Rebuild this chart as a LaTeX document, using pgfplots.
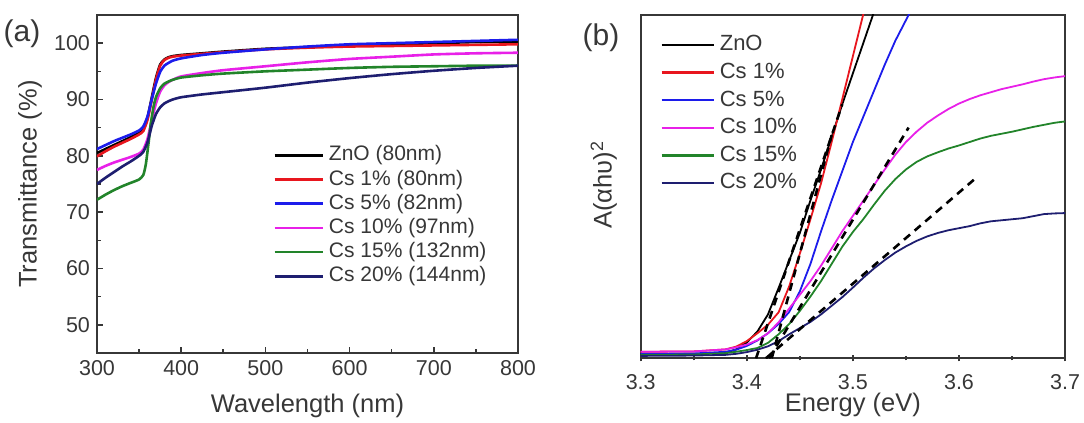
\documentclass[border=0pt]{standalone}
\usepackage{fontspec}
\setmainfont{Liberation Sans}
\usepackage{pgfplots}
\pgfplotsset{compat=1.18}

\definecolor{cred}{RGB}{232,22,30}
\definecolor{cblue}{RGB}{28,28,235}
\definecolor{cmag}{RGB}{232,32,232}
\definecolor{cgreen}{RGB}{34,132,42}
\definecolor{cnavy}{RGB}{30,30,112}
\definecolor{axgray}{RGB}{55,55,55}

\pgfplotsset{
  panel/.style={
    scale only axis,
    axis line style={axgray, line width=1pt},
    tick style={axgray, line width=0.8pt},
    major tick length=3.2pt, minor tick length=2pt,
    ticklabel style={font=\fontsize{10.75}{12}\selectfont, text=axgray},
    /pgf/number format/assume math mode=true,
    label style={font=\fontsize{12.75}{14}\selectfont, text=axgray},
    legend cell align=left,
    clip mode=individual,
  },
}

\begin{document}
\begin{tikzpicture}
\useasboundingbox (0,0) rectangle (542pt,211.5pt);

% ---------- (a) transmittance ----------
\begin{axis}[panel,
    at={(48.5pt,35pt)}, anchor=south west,
    width=210.5pt, height=169pt,
    xmin=300, xmax=800, ymin=45, ymax=105,
    xtick={300,400,...,800}, ytick={50,60,...,100},
    minor x tick num=1, minor y tick num=1,
    xtick pos=bottom, ytick pos=left, tick align=inside,
    xlabel={Wavelength (nm)}, ylabel={Transmittance (\%)},
    xlabel style={at={(axis description cs:0.5,-0.157)}, anchor=center},
    ylabel style={at={(axis description cs:-0.159,0.5)}, anchor=center},
    every axis plot/.append style={line width=1.3pt, smooth, tension=0.35},
    legend image code/.code={\draw[#1, line width=1.3pt] (0pt,0pt) -- (24pt,0pt);},
    legend style={at={(axis description cs:0.418,0.617)}, anchor=north west,
      draw=none, fill=none, inner sep=0pt, row sep=1.6pt, column sep=2.5pt,
      font=\fontsize{10.5}{12}\selectfont, text=axgray,
      nodes={inner sep=0pt, text height=8pt, text depth=2.5pt}},
  ]
  \addplot[black] coordinates {(300,80.5)(310,81.2)(320,81.9)(330,82.6)(340,83.3)(350,84.1)(355,84.8)(360,86.8)(365,90.3)(370,93.8)(375,96.2)(380,97.1)(385,97.5)(390,97.7)(400,97.9)(425,98.2)(450,98.5)(500,99.0)(550,99.3)(600,99.6)(650,99.8)(700,100.0)(750,100.2)(800,100.3)};
  \addlegendentry{ZnO (80nm)}
  \addplot[cred] coordinates {(300,79.9)(310,80.8)(320,81.6)(330,82.3)(340,83.0)(350,83.8)(355,84.4)(360,86.4)(365,89.9)(370,93.5)(375,96.0)(380,97.0)(385,97.4)(390,97.6)(400,97.8)(425,98.1)(450,98.4)(500,98.9)(550,99.2)(600,99.4)(650,99.5)(700,99.6)(750,99.7)(800,99.8)};
  \addlegendentry{Cs 1\% (80nm)}
  \addplot[cblue] coordinates {(300,81.2)(310,81.9)(320,82.6)(330,83.2)(340,83.8)(350,84.5)(355,85.2)(360,87.0)(365,90.0)(370,92.8)(375,94.9)(380,96.0)(385,96.5)(390,96.9)(400,97.3)(425,97.9)(450,98.3)(500,98.9)(550,99.4)(600,99.8)(650,100.0)(700,100.2)(750,100.4)(800,100.6)};
  \addlegendentry{Cs 5\% (82nm)}
  \addplot[cmag] coordinates {(300,77.5)(310,78.2)(320,78.8)(330,79.3)(340,79.8)(350,80.4)(355,81.1)(360,83.0)(365,86.3)(370,89.3)(375,91.4)(380,92.5)(385,93.1)(390,93.5)(400,94.1)(425,94.7)(450,95.2)(500,95.9)(550,96.6)(600,97.2)(650,97.6)(700,98.0)(750,98.2)(800,98.3)};
  \addlegendentry{Cs 10\% (97nm)}
  \addplot[cgreen] coordinates {(300,72.2)(310,73.1)(320,73.9)(330,74.6)(340,75.2)(350,75.8)(355,76.6)(358,78.5)(361,82.0)(364,85.8)(367,88.6)(370,90.4)(375,92.0)(380,92.8)(385,93.2)(390,93.5)(400,93.9)(425,94.3)(450,94.6)(500,95.0)(550,95.3)(600,95.6)(650,95.8)(700,95.9)(750,96.0)(800,96.0)};
  \addlegendentry{Cs 15\% (132nm)}
  \addplot[cnavy] coordinates {(300,75.0)(310,76.1)(320,77.1)(330,78.1)(340,79.0)(350,80.0)(355,80.7)(360,82.4)(365,85.3)(370,87.4)(375,88.6)(380,89.3)(385,89.7)(390,90.0)(400,90.4)(425,90.9)(450,91.3)(500,92.1)(550,93.0)(600,93.8)(650,94.5)(700,95.1)(750,95.6)(800,96.0)};
  \addlegendentry{Cs 20\% (144nm)}
  \node[font=\fontsize{15}{17}\selectfont, text=axgray] at (axis description cs:-0.178,0.944) {(a)};
\end{axis}

% ---------- (b) Tauc plot ----------
\begin{axis}[panel,
    at={(320.35pt,32.35pt)}, anchor=south west,
    width=212.2pt, height=171.65pt,
    xmin=3.3, xmax=3.7, ymin=0, ymax=100,
    xtick={3.3,3.4,...,3.7}, ytick=\empty,
    minor x tick num=1,
    xtick pos=bottom, tick align=center,
    xticklabel style={yshift=-3pt, /pgf/number format/.cd, fixed, fixed zerofill, precision=1},
    xlabel={Energy (eV)}, ylabel={A(αhυ)\textsuperscript{2}},
    xlabel style={at={(axis description cs:0.5,-0.136)}, anchor=center},
    ylabel style={at={(axis description cs:-0.087,0.505)}, anchor=center},
    every axis plot/.append style={line width=0.9pt},
    legend image code/.code={\draw[#1, line width=1.2pt] (0pt,0pt) -- (26pt,0pt);},
    legend style={at={(axis description cs:0.0455,0.946)}, anchor=north west,
      draw=none, fill=none, inner sep=0pt, row sep=2.7pt, column sep=2.5pt,
      font=\fontsize{11}{13}\selectfont, text=axgray,
      nodes={inner sep=0pt, text height=8.5pt, text depth=2.6pt}},
  ]
  \addplot[black] coordinates {(3.30,1.2)(3.35,1.3)(3.38,1.6)(3.39,2.6)(3.40,4.6)(3.41,7.8)(3.42,12.8)(3.43,20.5)(3.44,28.5)(3.45,36.5)(3.46,46.0)(3.47,55.0)(3.48,64.5)(3.49,74.0)(3.50,83.0)(3.51,92.0)(3.52,101.0)(3.53,110.0)};
  \addlegendentry{ZnO}
  \addplot[cred] coordinates {(3.30,1.9)(3.35,2.0)(3.38,2.6)(3.39,3.4)(3.40,5.0)(3.41,7.3)(3.42,9.8)(3.43,13.4)(3.44,21.0)(3.45,30.5)(3.46,40.5)(3.47,51.0)(3.48,63.0)(3.49,75.5)(3.50,88.0)(3.51,100.5)(3.52,113.0)};
  \addlegendentry{Cs 1\%}
  \addplot[cblue] coordinates {(3.30,1.3)(3.35,1.4)(3.38,1.9)(3.39,2.5)(3.40,3.6)(3.41,5.2)(3.42,7.3)(3.43,10.0)(3.44,13.5)(3.45,19.5)(3.46,27.5)(3.47,37.0)(3.48,46.0)(3.49,54.5)(3.50,63.0)(3.51,70.5)(3.52,78.0)(3.53,85.5)(3.54,92.5)(3.55,98.5)(3.56,104.5)};
  \addlegendentry{Cs 5\%}
  \addplot[cmag] coordinates {(3.30,1.9)(3.35,2.0)(3.38,2.6)(3.39,3.2)(3.40,4.0)(3.41,5.3)(3.42,7.3)(3.43,10.5)(3.44,14.5)(3.45,18.5)(3.46,22.5)(3.47,27.0)(3.48,32.0)(3.49,37.0)(3.50,41.5)(3.51,46.0)(3.52,50.5)(3.53,55.0)(3.54,59.3)(3.55,63.0)(3.56,66.0)(3.57,68.6)(3.58,70.7)(3.59,72.6)(3.60,74.2)(3.61,75.5)(3.62,76.6)(3.63,77.5)(3.64,78.4)(3.65,79.1)(3.66,79.8)(3.67,80.6)(3.68,81.3)(3.69,81.8)(3.70,82.2)};
  \addlegendentry{Cs 10\%}
  \addplot[cgreen] coordinates {(3.30,1.0)(3.35,1.1)(3.38,1.5)(3.39,1.9)(3.40,2.4)(3.41,3.0)(3.42,4.5)(3.43,7.0)(3.44,10.0)(3.45,13.8)(3.46,18.0)(3.47,22.5)(3.48,27.5)(3.49,32.5)(3.50,36.8)(3.51,40.6)(3.52,44.8)(3.53,48.8)(3.54,52.2)(3.55,55.0)(3.56,57.2)(3.57,58.8)(3.58,60.0)(3.59,61.1)(3.60,62.0)(3.61,63.0)(3.62,64.0)(3.63,64.8)(3.64,65.4)(3.65,66.0)(3.66,66.7)(3.67,67.4)(3.68,68.0)(3.69,68.6)(3.70,69.0)};
  \addlegendentry{Cs 15\%}
  \addplot[cnavy] coordinates {(3.30,0.7)(3.35,0.8)(3.38,1.0)(3.39,1.3)(3.40,1.8)(3.41,2.5)(3.42,3.5)(3.43,5.0)(3.44,7.0)(3.45,8.8)(3.46,10.6)(3.47,12.8)(3.48,15.3)(3.49,17.8)(3.50,20.6)(3.51,23.5)(3.52,26.2)(3.53,28.6)(3.54,30.8)(3.55,32.6)(3.56,34.2)(3.57,35.5)(3.58,36.5)(3.59,37.3)(3.60,37.9)(3.61,38.5)(3.62,39.3)(3.63,39.9)(3.64,40.2)(3.65,40.5)(3.66,40.8)(3.67,41.4)(3.68,42.0)(3.69,42.2)(3.70,42.3)};
  \addlegendentry{Cs 20\%}
  % linear fits (dashed)
  \addplot[black, line width=1.3pt, dash pattern=on 4pt off 3pt, forget plot] coordinates {(3.4087,0)(3.490,74)};
  \addplot[black, line width=1.3pt, dash pattern=on 4pt off 3pt, forget plot] coordinates {(3.4235,0)(3.480,65)};
  \addplot[black, line width=1.3pt, dash pattern=on 4pt off 3pt, forget plot] coordinates {(3.421,0)(3.5525,67.2)};
  \addplot[black, line width=1.3pt, dash pattern=on 4pt off 3pt, forget plot] coordinates {(3.418,0)(3.614,52.0)};
  \node[font=\fontsize{15}{17}\selectfont, text=axgray] at (axis description cs:-0.0936,0.933) {(b)};
\end{axis}
\end{tikzpicture}
\end{document}
